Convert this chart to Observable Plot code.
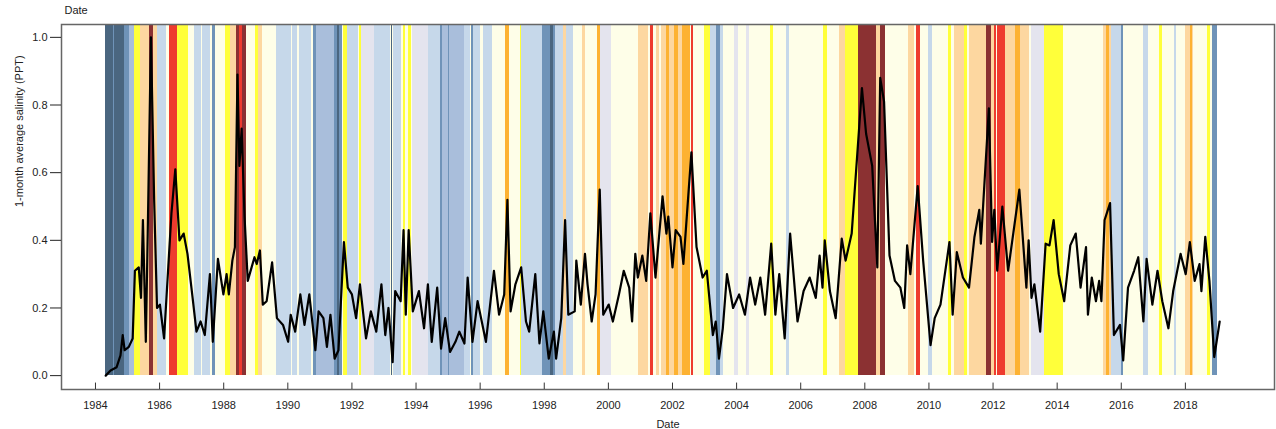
<!DOCTYPE html>
<html><head><meta charset="utf-8">
<script src="https://cdn.jsdelivr.net/npm/d3@7"></script>
<script src="https://cdn.jsdelivr.net/npm/@observablehq/plot@0.6"></script>
<style>body{margin:0;background:#fff;font-family:"Liberation Sans",Arial,sans-serif}</style>
</head><body><div id="c"></div>
<script>
const years = [1984,1986,1988,1990,1992,1994,1996,1998,2000,2002,2004,2006,2008,2010,2012,2014,2016,2018];
const yTicks = [0,0.2,0.4,0.6,0.8,1.0];
const catNames = ["D4","D3","D2","D1","D0","N","W0","W1","W2","W3","W4"];
const catColors = ["#8b3132","#ee3b2e","#fdb232","#fdd7a0","#ffff3a","#fefee8","#e4e4ee","#c6d8ea","#a9bedb","#6f93b8","#4a6680"];
const bands = [
[1984.32,2019.0,"N"],
[1984.32,1984.55,"W4"],[1984.55,1984.6,"W3"],[1984.6,1984.9,"W4"],[1984.9,1985.05,"W3"],[1985.05,1985.23,"W2"],[1985.23,1985.42,"D0"],[1985.42,1985.67,"D1"],[1985.7,1985.8,"D4"],[1985.8,1985.95,"D1"],[1985.95,1986.2,"W1"],[1986.3,1986.56,"D3"],[1986.56,1986.9,"D0"],[1987.1,1987.3,"W1"],[1987.35,1987.6,"W1"],[1987.65,1987.75,"W3"],[1988.07,1988.2,"D0"],[1988.2,1988.4,"D1"],[1988.4,1988.5,"D4"],[1988.5,1988.6,"D3"],[1988.6,1988.7,"D4"],[1989.0,1989.1,"D0"],[1989.1,1989.2,"D1"],[1989.66,1990.1,"W1"],[1990.15,1990.3,"W1"],[1990.35,1990.75,"W1"],[1990.8,1990.9,"W3"],[1990.9,1991.2,"W2"],[1991.2,1991.45,"W2"],[1991.45,1991.7,"W3"],[1991.55,1991.6,"W4"],[1991.75,1991.85,"D0"],[1991.85,1992.2,"W1"],[1992.25,1992.3,"D0"],[1992.3,1992.7,"W0"],[1992.7,1993.2,"W1"],[1993.22,1993.28,"W4"],[1993.3,1993.55,"W1"],[1993.6,1993.68,"D0"],[1993.75,1993.85,"D0"],[1993.9,1994.4,"W0"],[1994.4,1994.75,"W1"],[1994.75,1994.82,"W3"],[1994.82,1995.5,"W2"],[1995.0,1995.05,"W3"],[1995.5,1995.7,"W1"],[1995.72,1995.78,"W3"],[1995.78,1996.0,"W1"],[1996.1,1996.4,"W1"],[1996.8,1996.9,"D2"],[1997.25,1997.3,"D0"],[1997.3,1997.55,"W1"],[1997.55,1997.95,"W1"],[1997.95,1998.35,"W3"],[1998.2,1998.28,"W4"],[1998.35,1998.6,"W1"],[1998.6,1998.68,"D1"],[1998.7,1998.9,"W1"],[1999.2,1999.3,"D1"],[1999.66,1999.75,"D2"],[1999.75,2000.1,"W0"],[2000.95,2001.25,"D1"],[2001.3,2001.4,"D3"],[2001.5,2001.6,"D1"],[2001.65,2002.05,"D1"],[2001.8,2001.9,"D2"],[2002.05,2002.55,"D2"],[2002.2,2002.3,"D1"],[2002.58,2002.65,"D3"],[2003.0,2003.2,"D0"],[2003.2,2003.6,"W1"],[2003.38,2003.5,"W3"],[2003.95,2004.05,"W0"],[2004.3,2004.4,"W0"],[2005.05,2005.15,"D0"],[2005.55,2005.65,"W1"],[2006.72,2006.85,"D0"],[2007.2,2007.4,"D1"],[2007.4,2007.8,"D0"],[2007.8,2008.35,"D4"],[2008.35,2008.48,"D1"],[2008.48,2008.65,"D4"],[2009.35,2009.55,"D1"],[2009.6,2009.73,"D3"],[2009.98,2010.1,"W1"],[2010.6,2010.7,"D0"],[2010.8,2011.1,"D1"],[2011.1,2011.2,"D0"],[2011.25,2011.8,"D1"],[2011.8,2011.96,"D4"],[2011.96,2012.1,"D1"],[2012.05,2012.1,"D3"],[2012.13,2012.38,"D3"],[2012.4,2012.7,"D1"],[2012.7,2012.85,"D2"],[2012.85,2013.15,"D1"],[2013.2,2013.6,"W0"],[2013.6,2014.2,"D0"],[2015.45,2015.7,"D1"],[2015.55,2015.62,"D2"],[2015.7,2016.05,"W1"],[2016.0,2016.06,"W3"],[2016.7,2016.85,"W1"],[2017.2,2017.3,"D0"],[2017.65,2017.72,"W1"],[2018.0,2018.25,"D1"],[2018.15,2018.22,"D2"],[2018.7,2018.78,"D0"],[2018.86,2019.0,"W3"]
];
const dates = [1984.32,1984.47,1984.66,1984.78,1984.85,1984.91,1985.04,1985.16,1985.23,1985.35,1985.42,1985.48,1985.57,1985.63,1985.73,1985.83,1985.92,1986.01,1986.14,1986.27,1986.37,1986.49,1986.62,1986.75,1986.87,1987.03,1987.15,1987.28,1987.41,1987.57,1987.66,1987.82,1987.99,1988.09,1988.16,1988.27,1988.35,1988.43,1988.49,1988.56,1988.65,1988.75,1988.87,1988.96,1989.03,1989.13,1989.22,1989.34,1989.51,1989.66,1989.85,1990.01,1990.09,1990.23,1990.39,1990.52,1990.67,1990.86,1990.96,1991.11,1991.22,1991.33,1991.46,1991.58,1991.75,1991.87,1992.0,1992.13,1992.25,1992.44,1992.59,1992.76,1992.92,1993.04,1993.14,1993.27,1993.35,1993.52,1993.61,1993.68,1993.77,1993.9,1994.09,1994.25,1994.37,1994.49,1994.66,1994.78,1994.91,1995.06,1995.23,1995.35,1995.51,1995.61,1995.76,1995.92,1996.18,1996.43,1996.59,1996.75,1996.85,1996.95,1997.1,1997.28,1997.43,1997.53,1997.72,1997.85,1997.97,1998.14,1998.3,1998.37,1998.53,1998.65,1998.75,1998.95,1999.0,1999.14,1999.27,1999.35,1999.48,1999.6,1999.73,1999.84,2000.01,2000.14,2000.33,2000.48,2000.65,2000.74,2000.84,2000.92,2001.06,2001.18,2001.31,2001.47,2001.69,2001.81,2001.87,2002.0,2002.1,2002.25,2002.34,2002.59,2002.75,2002.94,2003.07,2003.26,2003.35,2003.45,2003.57,2003.7,2003.89,2004.08,2004.26,2004.42,2004.58,2004.74,2004.89,2005.08,2005.21,2005.33,2005.5,2005.67,2005.9,2006.09,2006.28,2006.47,2006.59,2006.68,2006.75,2006.91,2007.09,2007.28,2007.4,2007.59,2007.91,2008.04,2008.23,2008.39,2008.48,2008.6,2008.77,2008.94,2009.11,2009.23,2009.32,2009.42,2009.65,2009.82,2010.05,2010.18,2010.36,2010.64,2010.74,2010.87,2011.06,2011.25,2011.42,2011.57,2011.62,2011.87,2011.97,2012.04,2012.13,2012.29,2012.47,2012.82,2013.04,2013.11,2013.2,2013.29,2013.47,2013.64,2013.76,2013.89,2014.05,2014.22,2014.41,2014.58,2014.73,2014.9,2014.96,2015.08,2015.21,2015.31,2015.38,2015.48,2015.65,2015.77,2015.96,2016.06,2016.21,2016.4,2016.53,2016.69,2016.79,2016.97,2017.13,2017.28,2017.47,2017.62,2017.85,2018.01,2018.14,2018.29,2018.44,2018.5,2018.62,2018.75,2018.9,2019.07];
const salinity = [0.0,0.015,0.025,0.06,0.12,0.075,0.085,0.11,0.31,0.32,0.23,0.46,0.10,0.42,1.0,0.52,0.2,0.21,0.11,0.32,0.48,0.61,0.40,0.42,0.36,0.23,0.13,0.16,0.12,0.30,0.10,0.345,0.24,0.30,0.24,0.34,0.38,0.89,0.62,0.73,0.47,0.28,0.32,0.35,0.33,0.37,0.21,0.22,0.335,0.17,0.15,0.10,0.18,0.13,0.24,0.15,0.24,0.075,0.19,0.17,0.085,0.18,0.05,0.075,0.395,0.26,0.24,0.17,0.27,0.11,0.19,0.13,0.27,0.12,0.20,0.04,0.25,0.22,0.43,0.18,0.43,0.19,0.25,0.14,0.27,0.10,0.26,0.08,0.17,0.07,0.10,0.13,0.095,0.29,0.10,0.22,0.10,0.31,0.18,0.24,0.52,0.19,0.27,0.32,0.16,0.13,0.30,0.095,0.19,0.05,0.13,0.05,0.17,0.46,0.18,0.19,0.34,0.21,0.36,0.27,0.16,0.24,0.55,0.18,0.21,0.16,0.24,0.31,0.26,0.16,0.36,0.29,0.355,0.28,0.48,0.29,0.53,0.42,0.47,0.32,0.43,0.41,0.33,0.66,0.38,0.29,0.31,0.12,0.16,0.05,0.14,0.30,0.20,0.24,0.18,0.29,0.21,0.29,0.18,0.39,0.18,0.30,0.11,0.42,0.16,0.25,0.29,0.23,0.355,0.26,0.40,0.25,0.17,0.405,0.34,0.42,0.85,0.715,0.62,0.32,0.88,0.81,0.355,0.28,0.26,0.20,0.385,0.30,0.56,0.34,0.09,0.17,0.21,0.395,0.18,0.365,0.29,0.26,0.41,0.49,0.39,0.79,0.395,0.49,0.31,0.50,0.31,0.55,0.26,0.40,0.23,0.27,0.13,0.39,0.385,0.46,0.30,0.22,0.385,0.42,0.26,0.38,0.18,0.29,0.22,0.28,0.22,0.46,0.51,0.12,0.15,0.045,0.26,0.31,0.35,0.16,0.345,0.21,0.31,0.22,0.14,0.25,0.36,0.30,0.395,0.28,0.33,0.25,0.41,0.28,0.055,0.16];

const bandData = bands.map(([a,b,c]) => ({a,b,c}));
const lineData = dates.map((d,i) => ({d, v: salinity[i]}));
const yMin = -0.041, yMax = 1.038;

const chart = Plot.plot({
  width: 1276, height: 429,
  marginLeft: 61, marginRight: 2, marginTop: 24, marginBottom: 40,
  style: {fontFamily: "Liberation Sans, Arial, sans-serif", fontSize: "11px", color: "#222"},
  x: {domain: [1982.94, 2020.78], label: null},
  y: {domain: [yMin, yMax], label: null},
  color: {type: "ordinal", domain: catNames, range: catColors},
  marks: [
    Plot.rect(bandData, {x1: "a", x2: "b", y1: 0, y2: yMax, fill: "c", shapeRendering: "crispEdges"}),
    Plot.line(lineData, {x: "d", y: "v", stroke: "#000", strokeWidth: 2.2, curve: "linear"}),
    Plot.frame({stroke: "#666", strokeWidth: 1.5}),
    Plot.axisX(years, {tickSize: 0, tickPadding: 12, tickFormat: d => String(d), fontSize: 11}),
    Plot.ruleX(years, {x: d => d, y1: yMin, y2: yMin + 0.019, stroke: "#333"}),
    Plot.axisY(yTicks, {tickSize: 11, tickPadding: 3, tickFormat: d3.format(".1f"), fontSize: 11}),
    Plot.text(["Date"], {frameAnchor: "top-left", dx: 3, dy: -18, textAnchor: "start", fontSize: 11}),
    Plot.text(["Date"], {frameAnchor: "bottom", dy: 38, fontSize: 11}),
    Plot.text(["1-month average salinity (PPT)"], {frameAnchor: "left", dx: -42, rotate: -90, fontSize: 11})
  ]
});
document.getElementById("c").appendChild(chart);
</script></body></html>
